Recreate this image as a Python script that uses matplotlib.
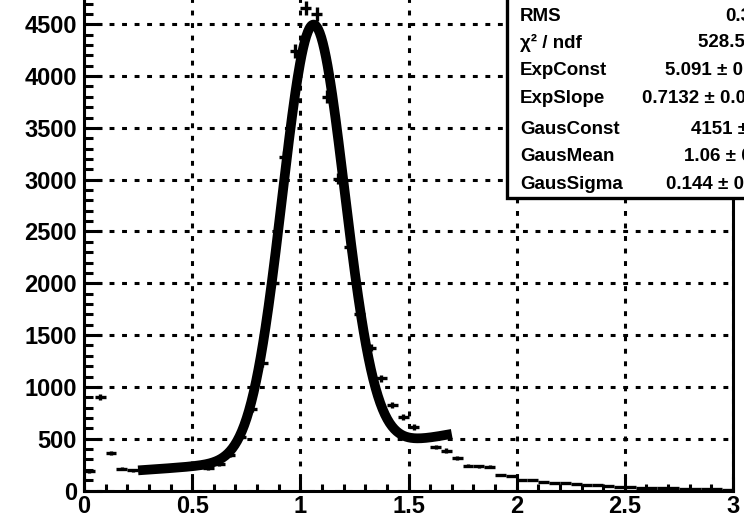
import numpy as np
import matplotlib
matplotlib.use("Agg")
import matplotlib.pyplot as plt
from matplotlib.patches import Rectangle
from matplotlib.ticker import MultipleLocator, FixedLocator, FixedFormatter

plt.rcParams['font.family'] = ['Liberation Sans', 'DejaVu Sans']
plt.rcParams['font.weight'] = 'bold'

# histogram: 60 bins of width 0.05 between 0 and 3
bin_lo = np.arange(0.0, 3.0, 0.05)
counts = [185, 900, 365, 210, 195, 198, 205, 212, 220, 226, 228, 215, 255, 343, 520,
          785, 1230, 2000, 3220, 4240, 4660, 4600, 3800, 3010, 2350, 1700, 1380, 1083,
          825, 708, 613, 500, 423, 386, 312, 240, 233, 228, 150, 138, 101, 100,
          78, 74, 68, 62, 53, 49, 40, 37, 34, 28, 25, 22, 20, 17, 15, 13, 11, 9]

# fit parameters from the stats box
exp_const = 5.091
exp_slope = 0.7132
gaus_const = 4151
gaus_mean = 1.06
gaus_sigma = 0.144
fit_range = (0.25, 1.7)

stat_names = ["RMS", "\u03c7\u00b2 / ndf", "ExpConst", "ExpSlope", "GausConst", "GausMean", "GausSigma"]
stat_values = ["0.3412", "528.5 / 24", "5.091 \u00b1 0.031", "0.7132 \u00b1 0.012",
               "4151 \u00b1 25.4", "1.06 \u00b1 0.001", "0.144 \u00b1 0.001"]

xtick_vals = [0, 0.5, 1, 1.5, 2, 2.5, 3]
xtick_labels = ["0", "0.5", "1", "1.5", "2", "2.5", "3"]
ytick_vals = [0, 500, 1000, 1500, 2000, 2500, 3000, 3500, 4000, 4500]
ytick_labels = [str(v) for v in ytick_vals]

W, H = 744, 517
fig = plt.figure(figsize=(W / 100, H / 100), dpi=100)
ax = fig.add_axes([84 / W, (H - 490.5) / H, (733 - 84) / W, (490.5 + 27.5) / H])

centers = bin_lo + 0.025
counts = np.array(counts, dtype=float)
ax.errorbar(centers, counts, xerr=0.025, yerr=np.sqrt(counts), fmt='none',
            ecolor='black', elinewidth=2.4, capsize=0, zorder=3)

xf = np.linspace(fit_range[0], fit_range[1], 400)
yf = np.exp(exp_const + exp_slope * xf) + gaus_const * np.exp(-0.5 * ((xf - gaus_mean) / gaus_sigma) ** 2)
ax.plot(xf, yf, color='black', lw=7, solid_capstyle='butt', zorder=4)

ax.set_xlim(0, 3)
ax.set_ylim(0, 5000)
ax.xaxis.set_major_locator(FixedLocator(xtick_vals))
ax.xaxis.set_major_formatter(FixedFormatter(xtick_labels))
ax.xaxis.set_minor_locator(MultipleLocator(0.1))
ax.yaxis.set_major_locator(FixedLocator(ytick_vals))
ax.yaxis.set_major_formatter(FixedFormatter(ytick_labels))
ax.yaxis.set_minor_locator(MultipleLocator(100))

ax.grid(True, which='major', color='black', lw=2.2, linestyle=(0, (1.6, 2.5)))
ax.set_axisbelow(True)
for s in ax.spines.values():
    s.set_linewidth(2.2)

ax.tick_params(axis='both', which='both', direction='in', width=2.2, labelsize=17,
               top=False, right=False)
ax.tick_params(axis='x', which='major', length=10, pad=3)
ax.tick_params(axis='x', which='minor', length=5)
ax.tick_params(axis='y', which='major', length=13, pad=5)
ax.tick_params(axis='y', which='minor', length=6.5)

# stats box, partly outside the picture
box = Rectangle((507 / W, (H - 198) / H), 300 / W, 250 / H, transform=fig.transFigure,
                facecolor='white', edgecolor='black', lw=2.4, zorder=10, clip_on=False)
fig.add_artist(box)

row_y = [16.7, 42.7, 70.7, 99, 129.3, 156.7, 184.3]
val_x = [725, 698, 665, 642, 691, 684, 666]
for name, val, yy, vx in zip(stat_names, stat_values, row_y, val_x):
    fig.text(520 / W, 1 - yy / H, name, fontsize=13.5, fontweight='bold', va='center',
             ha='left', zorder=11)
    fig.text(vx / W, 1 - yy / H, val, fontsize=13.5, fontweight='bold', va='center',
             ha='left', zorder=11)

fig.savefig("out.png", dpi=100)
